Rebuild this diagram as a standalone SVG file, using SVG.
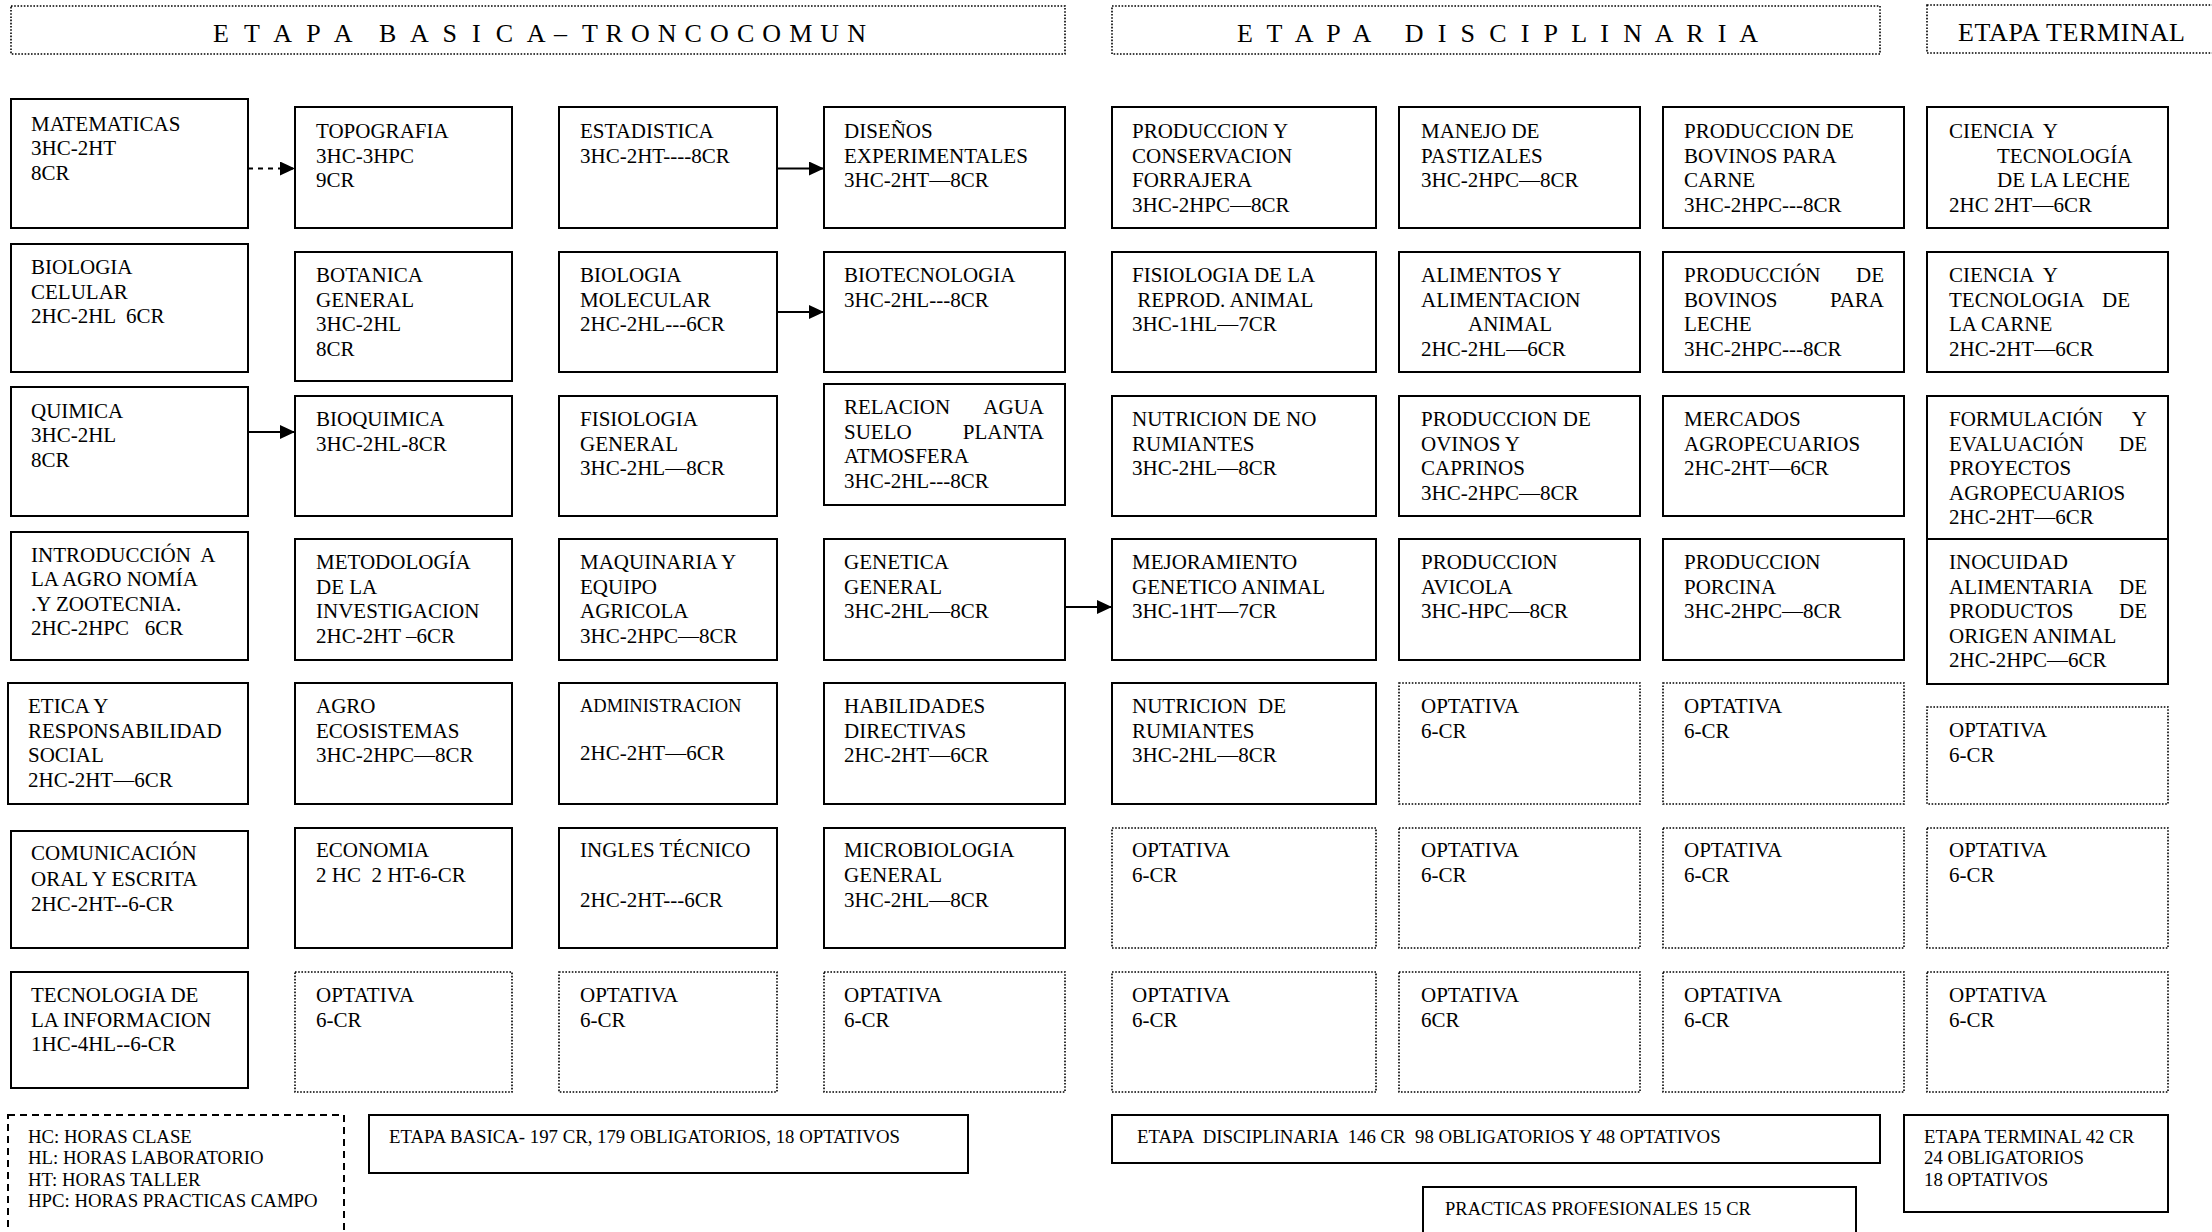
<svg xmlns="http://www.w3.org/2000/svg" width="2212" height="1232" viewBox="0 0 2212 1232">
<style>
text{font-family:"Liberation Serif","Times New Roman",serif;font-size:21px;fill:#000;white-space:pre}
.box{fill:#fff;stroke:#000;stroke-width:2}
.opt{fill:#fff;stroke:#000;stroke-width:1.6;stroke-dasharray:1.6 1.6}
.hdr{fill:#fff;stroke:#000;stroke-width:1.6;stroke-dasharray:1.6 1.6}
.leg{fill:none;stroke:#000;stroke-width:2;stroke-dasharray:7 5}
text.sm,tspan.sm{font-size:18.8px}
text.sm2,tspan.sm2{font-size:18.5px}
text.h{font-size:26px}
.conn{stroke:#000;stroke-width:2;fill:none}
.dash{stroke-dasharray:5 5}
</style>
<defs>
<marker id="ah" markerUnits="userSpaceOnUse" markerWidth="16" markerHeight="15" refX="15" refY="7" orient="auto"><path d="M0,0 L15,7 L0,14 z" fill="#000"/></marker>
</defs>
<rect width="2212" height="1232" fill="#fff"/>

<g id="headers">
<g id="h-basica"><rect class="hdr" x="11" y="6" width="1054" height="48"/><text class="h" y="41.5"><tspan x="213" textLength="138" lengthAdjust="spacing">E T A P A</tspan> <tspan x="379" textLength="165" lengthAdjust="spacing">B A S I C A</tspan> <tspan x="554">–</tspan> <tspan x="582" textLength="284" lengthAdjust="spacing">T R O N C O C O M U N</tspan></text></g>
<g id="h-disciplinaria"><rect class="hdr" x="1112" y="6" width="768" height="48"/><text class="h" x="1237" y="41.5" textLength="521" lengthAdjust="spacing">E T A P A   D I S C I P L I N A R I A</text></g>
<g id="h-terminal"><rect class="hdr" x="1927" y="5" width="300" height="48"/><text class="h" x="1958" y="41" textLength="227" lengthAdjust="spacing">ETAPA TERMINAL</text></g>
</g>

<g id="connectors">
<line class="conn dash" x1="248" y1="168.5" x2="295" y2="168.5" marker-end="url(#ah)"/>
<line class="conn" x1="777" y1="168.5" x2="824" y2="168.5" marker-end="url(#ah)"/>
<line class="conn" x1="777" y1="312" x2="824" y2="312" marker-end="url(#ah)"/>
<line class="conn" x1="248" y1="432" x2="295" y2="432" marker-end="url(#ah)"/>
<line class="conn" x1="1065" y1="607" x2="1112" y2="607" marker-end="url(#ah)"/>
</g>

<!-- Row 1 -->
<g id="n-matematicas"><rect class="box" x="11" y="99" width="237" height="129"/><text><tspan x="31" y="130.5">MATEMATICAS</tspan><tspan x="31" y="155">3HC-2HT</tspan><tspan x="31" y="179.5">8CR</tspan></text></g>
<g id="n-topografia"><rect class="box" x="295" y="107" width="217" height="121"/><text><tspan x="316" y="138">TOPOGRAFIA</tspan><tspan x="316" y="162.5">3HC-3HPC</tspan><tspan x="316" y="187">9CR</tspan></text></g>
<g id="n-estadistica"><rect class="box" x="559" y="107" width="218" height="121"/><text><tspan x="580" y="138">ESTADISTICA</tspan><tspan x="580" y="162.5">3HC-2HT----8CR</tspan></text></g>
<g id="n-disenos"><rect class="box" x="824" y="107" width="241" height="121"/><text><tspan x="844" y="138">DISEÑOS</tspan><tspan x="844" y="162.5">EXPERIMENTALES</tspan><tspan x="844" y="187">3HC-2HT—8CR</tspan></text></g>
<g id="n-forrajera"><rect class="box" x="1112" y="107" width="264" height="121"/><text><tspan x="1132" y="138">PRODUCCION Y</tspan><tspan x="1132" y="162.5">CONSERVACION</tspan><tspan x="1132" y="187">FORRAJERA</tspan><tspan x="1132" y="211.5">3HC-2HPC—8CR</tspan></text></g>
<g id="n-pastizales"><rect class="box" x="1399" y="107" width="241" height="121"/><text><tspan x="1421" y="138">MANEJO DE</tspan><tspan x="1421" y="162.5">PASTIZALES</tspan><tspan x="1421" y="187">3HC-2HPC—8CR</tspan></text></g>
<g id="n-bovinos-carne"><rect class="box" x="1663" y="107" width="241" height="121"/><text><tspan x="1684" y="138">PRODUCCION DE</tspan><tspan x="1684" y="162.5">BOVINOS PARA</tspan><tspan x="1684" y="187">CARNE</tspan><tspan x="1684" y="211.5">3HC-2HPC---8CR</tspan></text></g>
<g id="n-leche"><rect class="box" x="1927" y="107" width="241" height="121"/><text><tspan x="1949" y="138">CIENCIA  Y</tspan><tspan x="1997" y="162.5">TECNOLOGÍA</tspan><tspan x="1997" y="187">DE LA LECHE</tspan><tspan x="1949" y="211.5">2HC 2HT—6CR</tspan></text></g>

<!-- Row 2 -->
<g id="n-biologia-celular"><rect class="box" x="11" y="244" width="237" height="128"/><text><tspan x="31" y="274">BIOLOGIA</tspan><tspan x="31" y="298.5">CELULAR</tspan><tspan x="31" y="323">2HC-2HL  6CR</tspan></text></g>
<g id="n-botanica"><rect class="box" x="295" y="252" width="217" height="129"/><text><tspan x="316" y="282">BOTANICA</tspan><tspan x="316" y="306.5">GENERAL</tspan><tspan x="316" y="331">3HC-2HL</tspan><tspan x="316" y="355.5">8CR</tspan></text></g>
<g id="n-biologia-molecular"><rect class="box" x="559" y="252" width="218" height="120"/><text><tspan x="580" y="282">BIOLOGIA</tspan><tspan x="580" y="306.5">MOLECULAR</tspan><tspan x="580" y="331">2HC-2HL---6CR</tspan></text></g>
<g id="n-biotecnologia"><rect class="box" x="824" y="252" width="241" height="120"/><text><tspan x="844" y="282">BIOTECNOLOGIA</tspan><tspan x="844" y="306.5">3HC-2HL---8CR</tspan></text></g>
<g id="n-fisiologia-reprod"><rect class="box" x="1112" y="252" width="264" height="120"/><text><tspan x="1132" y="282">FISIOLOGIA DE LA</tspan><tspan x="1132" y="306.5"> REPROD. ANIMAL</tspan><tspan x="1132" y="331">3HC-1HL—7CR</tspan></text></g>
<g id="n-alimentos"><rect class="box" x="1399" y="252" width="241" height="120"/><text><tspan x="1421" y="282">ALIMENTOS Y</tspan><tspan x="1421" y="306.5">ALIMENTACION</tspan><tspan x="1468" y="331">ANIMAL</tspan><tspan x="1421" y="355.5">2HC-2HL—6CR</tspan></text></g>
<g id="n-bovinos-leche"><rect class="box" x="1663" y="252" width="241" height="120"/><text><tspan x="1684" y="282">PRODUCCIÓN</tspan><tspan x="1884" y="282" text-anchor="end">DE</tspan><tspan x="1684" y="306.5">BOVINOS</tspan><tspan x="1884" y="306.5" text-anchor="end">PARA</tspan><tspan x="1684" y="331">LECHE</tspan><tspan x="1684" y="355.5">3HC-2HPC---8CR</tspan></text></g>
<g id="n-carne"><rect class="box" x="1927" y="252" width="241" height="120"/><text><tspan x="1949" y="282">CIENCIA  Y</tspan><tspan x="1949" y="306.5">TECNOLOGIA</tspan><tspan x="2130" y="306.5" text-anchor="end">DE</tspan><tspan x="1949" y="331">LA CARNE</tspan><tspan x="1949" y="355.5">2HC-2HT—6CR</tspan></text></g>

<!-- Row 3 -->
<g id="n-quimica"><rect class="box" x="11" y="387" width="237" height="129"/><text><tspan x="31" y="417.5">QUIMICA</tspan><tspan x="31" y="442">3HC-2HL</tspan><tspan x="31" y="466.5">8CR</tspan></text></g>
<g id="n-bioquimica"><rect class="box" x="295" y="396" width="217" height="120"/><text><tspan x="316" y="426">BIOQUIMICA</tspan><tspan x="316" y="450.5">3HC-2HL-8CR</tspan></text></g>
<g id="n-fisiologia-general"><rect class="box" x="559" y="396" width="218" height="120"/><text><tspan x="580" y="426">FISIOLOGIA</tspan><tspan x="580" y="450.5">GENERAL</tspan><tspan x="580" y="475">3HC-2HL—8CR</tspan></text></g>
<g id="n-relacion"><rect class="box" x="824" y="384" width="241" height="121"/><text><tspan x="844" y="414">RELACION</tspan><tspan x="1044" y="414" text-anchor="end">AGUA</tspan><tspan x="844" y="438.5">SUELO</tspan><tspan x="1044" y="438.5" text-anchor="end">PLANTA</tspan><tspan x="844" y="463">ATMOSFERA</tspan><tspan x="844" y="487.5">3HC-2HL---8CR</tspan></text></g>
<g id="n-no-rumiantes"><rect class="box" x="1112" y="396" width="264" height="120"/><text><tspan x="1132" y="426">NUTRICION DE NO</tspan><tspan x="1132" y="450.5">RUMIANTES</tspan><tspan x="1132" y="475">3HC-2HL—8CR</tspan></text></g>
<g id="n-ovinos"><rect class="box" x="1399" y="396" width="241" height="120"/><text><tspan x="1421" y="426">PRODUCCION DE</tspan><tspan x="1421" y="450.5">OVINOS Y</tspan><tspan x="1421" y="475">CAPRINOS</tspan><tspan x="1421" y="499.5">3HC-2HPC—8CR</tspan></text></g>
<g id="n-mercados"><rect class="box" x="1663" y="396" width="241" height="120"/><text><tspan x="1684" y="426">MERCADOS</tspan><tspan x="1684" y="450.5">AGROPECUARIOS</tspan><tspan x="1684" y="475">2HC-2HT—6CR</tspan></text></g>
<g id="n-proyectos"><rect class="box" x="1927" y="396" width="241" height="143"/><text><tspan x="1949" y="426">FORMULACIÓN</tspan><tspan x="2147" y="426" text-anchor="end">Y</tspan><tspan x="1949" y="450.5">EVALUACIÓN</tspan><tspan x="2147" y="450.5" text-anchor="end">DE</tspan><tspan x="1949" y="475">PROYECTOS</tspan><tspan x="1949" y="499.5">AGROPECUARIOS</tspan><tspan x="1949" y="524">2HC-2HT—6CR</tspan></text></g>

<!-- Row 4 -->
<g id="n-introduccion"><rect class="box" x="11" y="532" width="237" height="128"/><text><tspan x="31" y="561.5">INTRODUCCIÓN  A</tspan><tspan x="31" y="586">LA AGRO NOMÍA</tspan><tspan x="31" y="610.5">.Y ZOOTECNIA.</tspan><tspan x="31" y="635">2HC-2HPC   6CR</tspan></text></g>
<g id="n-metodologia"><rect class="box" x="295" y="539" width="217" height="121"/><text><tspan x="316" y="569">METODOLOGÍA</tspan><tspan x="316" y="593.5">DE LA</tspan><tspan x="316" y="618">INVESTIGACION</tspan><tspan x="316" y="642.5">2HC-2HT –6CR</tspan></text></g>
<g id="n-maquinaria"><rect class="box" x="559" y="539" width="218" height="121"/><text><tspan x="580" y="569">MAQUINARIA Y</tspan><tspan x="580" y="593.5">EQUIPO</tspan><tspan x="580" y="618">AGRICOLA</tspan><tspan x="580" y="642.5">3HC-2HPC—8CR</tspan></text></g>
<g id="n-genetica"><rect class="box" x="824" y="539" width="241" height="121"/><text><tspan x="844" y="569">GENETICA</tspan><tspan x="844" y="593.5">GENERAL</tspan><tspan x="844" y="618">3HC-2HL—8CR</tspan></text></g>
<g id="n-mejoramiento"><rect class="box" x="1112" y="539" width="264" height="121"/><text><tspan x="1132" y="569">MEJORAMIENTO</tspan><tspan x="1132" y="593.5">GENETICO ANIMAL</tspan><tspan x="1132" y="618">3HC-1HT—7CR</tspan></text></g>
<g id="n-avicola"><rect class="box" x="1399" y="539" width="241" height="121"/><text><tspan x="1421" y="569">PRODUCCION</tspan><tspan x="1421" y="593.5">AVICOLA</tspan><tspan x="1421" y="618">3HC-HPC—8CR</tspan></text></g>
<g id="n-porcina"><rect class="box" x="1663" y="539" width="241" height="121"/><text><tspan x="1684" y="569">PRODUCCION</tspan><tspan x="1684" y="593.5">PORCINA</tspan><tspan x="1684" y="618">3HC-2HPC—8CR</tspan></text></g>
<g id="n-inocuidad"><rect class="box" x="1927" y="539" width="241" height="145"/><text><tspan x="1949" y="569">INOCUIDAD</tspan><tspan x="1949" y="593.5">ALIMENTARIA</tspan><tspan x="2147" y="593.5" text-anchor="end">DE</tspan><tspan x="1949" y="618">PRODUCTOS</tspan><tspan x="2147" y="618" text-anchor="end">DE</tspan><tspan x="1949" y="642.5">ORIGEN ANIMAL</tspan><tspan x="1949" y="667">2HC-2HPC—6CR</tspan></text></g>

<!-- Row 5 -->
<g id="n-etica"><rect class="box" x="8" y="683" width="240" height="121"/><text><tspan x="28" y="713">ETICA Y</tspan><tspan x="28" y="737.5">RESPONSABILIDAD</tspan><tspan x="28" y="762">SOCIAL</tspan><tspan x="28" y="786.5">2HC-2HT—6CR</tspan></text></g>
<g id="n-agroecosistemas"><rect class="box" x="295" y="683" width="217" height="121"/><text><tspan x="316" y="713">AGRO</tspan><tspan x="316" y="737.5">ECOSISTEMAS</tspan><tspan x="316" y="762">3HC-2HPC—8CR</tspan></text></g>
<g id="n-administracion"><rect class="box" x="559" y="683" width="218" height="121"/><text><tspan class="sm2" x="580" y="711.5">ADMINISTRACION</tspan><tspan x="580" y="760">2HC-2HT—6CR</tspan></text></g>
<g id="n-habilidades"><rect class="box" x="824" y="683" width="241" height="121"/><text><tspan x="844" y="713">HABILIDADES</tspan><tspan x="844" y="737.5">DIRECTIVAS</tspan><tspan x="844" y="762">2HC-2HT—6CR</tspan></text></g>
<g id="n-rumiantes"><rect class="box" x="1112" y="683" width="264" height="121"/><text><tspan x="1132" y="713">NUTRICION  DE</tspan><tspan x="1132" y="737.5">RUMIANTES</tspan><tspan x="1132" y="762">3HC-2HL—8CR</tspan></text></g>
<g id="n-opt-5-6"><rect class="opt" x="1399" y="683" width="241" height="121"/><text><tspan x="1421" y="713">OPTATIVA</tspan><tspan x="1421" y="737.5">6-CR</tspan></text></g>
<g id="n-opt-5-7"><rect class="opt" x="1663" y="683" width="241" height="121"/><text><tspan x="1684" y="713">OPTATIVA</tspan><tspan x="1684" y="737.5">6-CR</tspan></text></g>
<g id="n-opt-5-8"><rect class="opt" x="1927" y="707" width="241" height="97"/><text><tspan x="1949" y="737">OPTATIVA</tspan><tspan x="1949" y="761.5">6-CR</tspan></text></g>

<!-- Row 6 -->
<g id="n-comunicacion"><rect class="box" x="11" y="831" width="237" height="117"/><text><tspan x="31" y="860">COMUNICACIÓN</tspan><tspan x="31" y="885.5">ORAL Y ESCRITA</tspan><tspan x="31" y="911">2HC-2HT--6-CR</tspan></text></g>
<g id="n-economia"><rect class="box" x="295" y="828" width="217" height="120"/><text><tspan x="316" y="857">ECONOMIA</tspan><tspan x="316" y="882">2 HC  2 HT-6-CR</tspan></text></g>
<g id="n-ingles"><rect class="box" x="559" y="828" width="218" height="120"/><text><tspan x="580" y="857">INGLES TÉCNICO</tspan><tspan x="580" y="907">2HC-2HT---6CR</tspan></text></g>
<g id="n-microbiologia"><rect class="box" x="824" y="828" width="241" height="120"/><text><tspan x="844" y="857">MICROBIOLOGIA</tspan><tspan x="844" y="882">GENERAL</tspan><tspan x="844" y="907">3HC-2HL—8CR</tspan></text></g>
<g id="n-opt-6-5"><rect class="opt" x="1112" y="828" width="264" height="120"/><text><tspan x="1132" y="857">OPTATIVA</tspan><tspan x="1132" y="882">6-CR</tspan></text></g>
<g id="n-opt-6-6"><rect class="opt" x="1399" y="828" width="241" height="120"/><text><tspan x="1421" y="857">OPTATIVA</tspan><tspan x="1421" y="882">6-CR</tspan></text></g>
<g id="n-opt-6-7"><rect class="opt" x="1663" y="828" width="241" height="120"/><text><tspan x="1684" y="857">OPTATIVA</tspan><tspan x="1684" y="882">6-CR</tspan></text></g>
<g id="n-opt-6-8"><rect class="opt" x="1927" y="828" width="241" height="120"/><text><tspan x="1949" y="857">OPTATIVA</tspan><tspan x="1949" y="882">6-CR</tspan></text></g>

<!-- Row 7 -->
<g id="n-tecnologia-info"><rect class="box" x="11" y="972" width="237" height="116"/><text><tspan x="31" y="1002">TECNOLOGIA DE</tspan><tspan x="31" y="1026.5">LA INFORMACION</tspan><tspan x="31" y="1051">1HC-4HL--6-CR</tspan></text></g>
<g id="n-opt-7-2"><rect class="opt" x="295" y="972" width="217" height="120"/><text><tspan x="316" y="1002">OPTATIVA</tspan><tspan x="316" y="1026.5">6-CR</tspan></text></g>
<g id="n-opt-7-3"><rect class="opt" x="559" y="972" width="218" height="120"/><text><tspan x="580" y="1002">OPTATIVA</tspan><tspan x="580" y="1026.5">6-CR</tspan></text></g>
<g id="n-opt-7-4"><rect class="opt" x="824" y="972" width="241" height="120"/><text><tspan x="844" y="1002">OPTATIVA</tspan><tspan x="844" y="1026.5">6-CR</tspan></text></g>
<g id="n-opt-7-5"><rect class="opt" x="1112" y="972" width="264" height="120"/><text><tspan x="1132" y="1002">OPTATIVA</tspan><tspan x="1132" y="1026.5">6-CR</tspan></text></g>
<g id="n-opt-7-6"><rect class="opt" x="1399" y="972" width="241" height="120"/><text><tspan x="1421" y="1002">OPTATIVA</tspan><tspan x="1421" y="1026.5">6CR</tspan></text></g>
<g id="n-opt-7-7"><rect class="opt" x="1663" y="972" width="241" height="120"/><text><tspan x="1684" y="1002">OPTATIVA</tspan><tspan x="1684" y="1026.5">6-CR</tspan></text></g>
<g id="n-opt-7-8"><rect class="opt" x="1927" y="972" width="241" height="120"/><text><tspan x="1949" y="1002">OPTATIVA</tspan><tspan x="1949" y="1026.5">6-CR</tspan></text></g>

<!-- Bottom -->
<g id="legend"><rect class="leg" x="8" y="1115" width="336" height="140"/><text class="sm"><tspan x="28" y="1143">HC: HORAS CLASE</tspan><tspan x="28" y="1164">HL: HORAS LABORATORIO</tspan><tspan x="28" y="1185.5">HT: HORAS TALLER</tspan><tspan x="28" y="1207">HPC: HORAS PRACTICAS CAMPO</tspan></text></g>
<g id="sum-basica"><rect class="box" x="369" y="1115" width="599" height="58"/><text class="sm" x="389" y="1143">ETAPA BASICA- 197 CR, 179 OBLIGATORIOS, 18 OPTATIVOS</text></g>
<g id="sum-disciplinaria"><rect class="box" x="1112" y="1115" width="768" height="48"/><text class="sm" x="1137" y="1143">ETAPA  DISCIPLINARIA  146 CR  98 OBLIGATORIOS Y 48 OPTATIVOS</text></g>
<g id="sum-practicas"><rect class="box" x="1423" y="1187" width="433" height="70"/><text class="sm2" x="1445" y="1215">PRACTICAS PROFESIONALES 15 CR</text></g>
<g id="sum-terminal"><rect class="box" x="1904" y="1115" width="264" height="97"/><text class="sm"><tspan x="1924" y="1143">ETAPA TERMINAL 42 CR</tspan><tspan x="1924" y="1164">24 OBLIGATORIOS</tspan><tspan x="1924" y="1186">18 OPTATIVOS</tspan></text></g>
</svg>
